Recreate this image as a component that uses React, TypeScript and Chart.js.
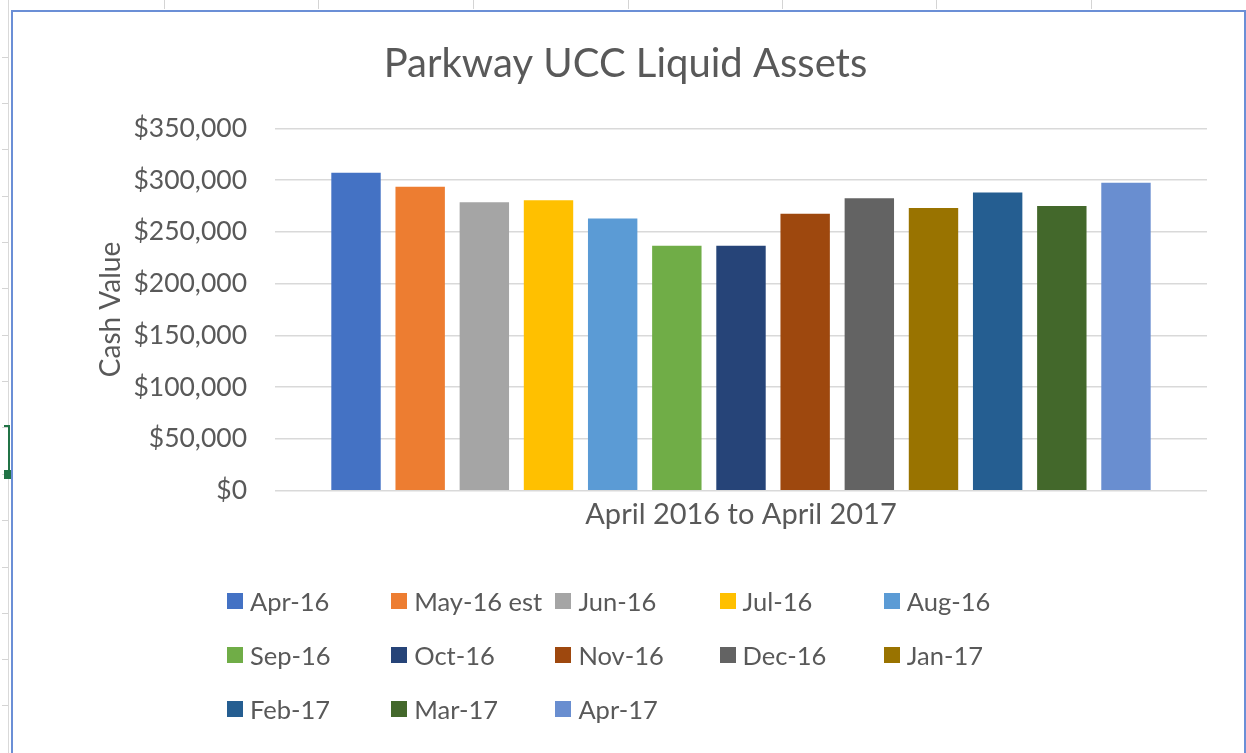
import React, { useEffect, useRef } from 'react';
import { Chart, registerables } from 'chart.js';

Chart.register(...registerables);

const chartTitle = 'Parkway UCC Liquid Assets';
const xAxisTitle = 'April 2016 to April 2017';
const yAxisTitle = 'Cash Value';
const categories = [xAxisTitle];

const seriesLabels = [
  'Apr-16', 'May-16 est', 'Jun-16', 'Jul-16', 'Aug-16',
  'Sep-16', 'Oct-16', 'Nov-16', 'Dec-16', 'Jan-17',
  'Feb-17', 'Mar-17', 'Apr-17',
];
const seriesValues = [
  307000, 293500, 278500, 280500, 263000,
  236500, 236500, 267500, 282500, 273000,
  288000, 275000, 297500,
];
const seriesColors = [
  '#4472C4', '#ED7D31', '#A5A5A5', '#FFC000', '#5B9BD5',
  '#70AD47', '#264478', '#9E480E', '#636363', '#997300',
  '#255E91', '#43682B', '#698ED0',
];

const yMin = 0;
const yMax = 350000;
const yStep = 50000;

const textColor = '#595959';
const fontFamily = 'Lato, "Open Sans", sans-serif';

const topRulerX = [164, 318, 473, 628, 782, 936, 1091];
const leftRulerY = [57, 103, 149, 196, 242, 288, 335, 381, 427, 474, 520, 567, 613, 659, 705];

export default function App() {
  const canvasRef = useRef<HTMLCanvasElement | null>(null);

  useEffect(() => {
    const canvas = canvasRef.current;
    if (!canvas) return;
    const chart = new Chart(canvas, {
      type: 'bar',
      data: {
        labels: categories,
        datasets: seriesLabels.map((label, i) => ({
          label,
          data: [seriesValues[i]],
          backgroundColor: seriesColors[i],
          borderWidth: 0,
          categoryPercentage: 0.895,
          barPercentage: 0.77,
        })),
      },
      options: {
        responsive: false,
        animation: false,
        layout: { padding: { left: 44, right: 39, top: 40, bottom: 212.3 } },
        plugins: {
          legend: { display: false },
          tooltip: { enabled: false },
          title: {
            display: true,
            text: chartTitle,
            color: textColor,
            font: { family: fontFamily, size: 40, weight: '400' as any },
            padding: { top: 0, bottom: 40.3 },
          },
        },
        scales: {
          x: {
            grid: { display: false },
            border: { display: false },
            ticks: { display: false },
            title: {
              display: true,
              text: xAxisTitle,
              color: textColor,
              font: { family: fontFamily, size: 29 },
              padding: { top: 0, bottom: 8.3 },
            },
            afterFit: (s: any) => { s.height = 50; },
          },
          y: {
            min: yMin,
            max: yMax,
            border: { display: false },
            grid: { color: '#d9d9d9', lineWidth: 1.5, drawTicks: false },
            ticks: {
              stepSize: yStep,
              padding: 28,
              color: textColor,
              font: { family: fontFamily, size: 26.5 },
              callback: (v: any) => '$' + Number(v).toLocaleString('en-US'),
            },
            title: {
              display: true,
              text: yAxisTitle,
              color: textColor,
              font: { family: fontFamily, size: 28 },
              padding: { top: 50.2, bottom: 0 },
            },
            afterFit: (s: any) => { s.width = 231; },
          },
        },
      },
    });
    return () => chart.destroy();
  }, []);

  const legendCols = 5;
  const legendX0 = 227;
  const legendDX = 164.2;
  const legendY0 = 602;
  const legendDY = 54;

  return (
    <div style={{ position: 'fixed', left: 0, top: 0, width: 1246, height: 753, background: '#fff', overflow: 'hidden' }}>
      {topRulerX.map((x) => (
        <div key={'t' + x} style={{ position: 'absolute', left: x, top: 0, width: 1, height: 9, background: '#d4d4d4' }} />
      ))}
      {leftRulerY.map((y) => (
        <div key={'l' + y} style={{ position: 'absolute', left: 2, top: y, width: 7, height: 1, background: '#d4d4d4' }} />
      ))}
      <div style={{ position: 'absolute', left: 8, top: 0, width: 1, height: 753, background: '#d9d9d9' }} />
      <div style={{ position: 'absolute', left: 11, top: 10, width: 1231, height: 760, border: '2px solid #6b8fd6', boxSizing: 'content-box' }} />
      <div style={{ position: 'absolute', left: 4, top: 425, width: 6, height: 2, background: '#217346' }} />
      <div style={{ position: 'absolute', left: 8, top: 425, width: 2, height: 46, background: '#217346' }} />
      <div style={{ position: 'absolute', left: 4, top: 470, width: 7, height: 9, background: '#217346' }} />
      <canvas ref={canvasRef} width={1246} height={753} style={{ position: 'absolute', left: 0, top: 0, width: 1246, height: 753 }} />
      {seriesLabels.map((label, i) => {
        const col = i % legendCols;
        const row = Math.floor(i / legendCols);
        return (
          <div
            key={label}
            style={{
              position: 'absolute',
              left: legendX0 + col * legendDX,
              top: legendY0 + row * legendDY - 17,
              height: 32,
              display: 'flex',
              alignItems: 'center',
              fontFamily,
              fontSize: 25.5,
              color: textColor,
              whiteSpace: 'nowrap',
            }}
          >
            <span style={{ display: 'inline-block', width: 16, height: 16, background: seriesColors[i], marginRight: 7 }} />
            <span>{label}</span>
          </div>
        );
      })}
    </div>
  );
}
